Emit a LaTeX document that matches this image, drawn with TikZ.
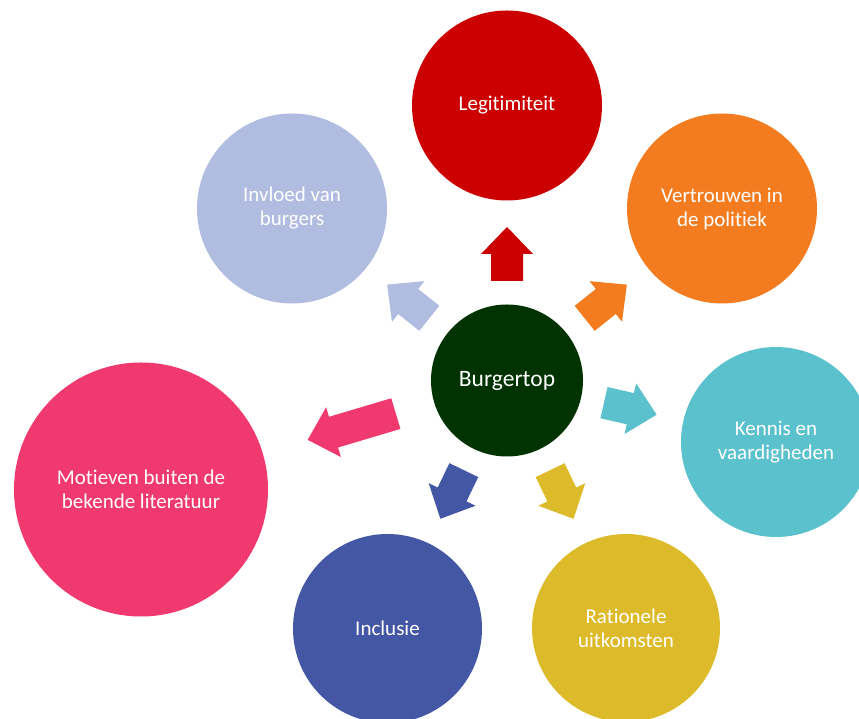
\documentclass[tikz,border=0pt]{standalone}
\usepackage{fontspec}
\setmainfont{Carlito}[Ligatures=NoCommon]
\usetikzlibrary{calc}

\definecolor{btgreen}{RGB}{0,51,0}
\definecolor{legitred}{RGB}{204,0,0}
\definecolor{vertorange}{RGB}{244,124,32}
\definecolor{kenniscyan}{RGB}{91,193,204}
\definecolor{rationyellow}{RGB}{220,186,42}
\definecolor{inclblue}{RGB}{67,87,165}
\definecolor{motiefpink}{RGB}{239,57,111}
\definecolor{invloedlav}{RGB}{176,188,224}

% block arrow from the centre towards a bubble: colour, target, tail distance, tip distance
\newcommand{\blockarrow}[4]{%
  \coordinate (atail) at ($(bt)!#3!(#2)$);
  \coordinate (atip) at ($(bt)!#4!(#2)$);
  \coordinate (ahead) at ($(atip)!27pt!(atail)$);
  \fill[#1] ($(atail)!16pt!90:(atip)$) -- ($(ahead)!16pt!90:(atip)$)
    -- ($(ahead)!26pt!90:(atip)$) -- (atip) -- ($(ahead)!26pt!-90:(atip)$)
    -- ($(ahead)!16pt!-90:(atip)$) -- ($(atail)!16pt!-90:(atip)$) -- cycle;
}

\begin{document}
\begin{tikzpicture}[x=1pt,y=1pt,
  bubble/.style={circle, inner sep=0pt, text=white, align=center,
    font=\fontsize{21}{24}\selectfont}]
\useasboundingbox (0,0) rectangle (859,719);
\fill[white] (0,0) rectangle (859,719);
\clip (0,0) rectangle (859,719);
% centre
\node[bubble, fill=btgreen, minimum size=152pt, font=\fontsize{23.5}{27}\selectfont] (bt) at (507,338.5) {Burgertop};
% outer bubbles
\node[bubble, fill=legitred, minimum size=190pt] (legit) at (507,613.5) {Legitimiteit};
\node[bubble, fill=vertorange, minimum size=190pt] (vert) at (722,510.5) {Vertrouwen in\\de politiek};
\node[bubble, fill=kenniscyan, minimum size=190pt] (kennis) at (776,277) {Kennis en\\vaardigheden};
\node[bubble, fill=rationyellow, minimum size=188pt] (ration) at (626,91) {Rationele\\uitkomsten};
\node[bubble, fill=inclblue, minimum size=189pt] (incl) at (387.5,90.5) {Inclusie};
\node[bubble, fill=motiefpink, minimum size=254pt] (motief) at (141,229.5) {Motieven buiten de\\bekende literatuur};
\node[bubble, fill=invloedlav, minimum size=190pt] (invloed) at (292,510.5) {Invloed van\\burgers};
% arrows
\blockarrow{legitred}{legit}{99.5pt}{153.5pt}
\blockarrow{vertorange}{vert}{99.5pt}{153.5pt}
\blockarrow{kenniscyan}{kennis}{99.5pt}{153.5pt}
\blockarrow{rationyellow}{ration}{99.5pt}{153.5pt}
\blockarrow{inclblue}{incl}{99.5pt}{153.5pt}
\blockarrow{motiefpink}{motief}{116pt}{208pt}
\blockarrow{invloedlav}{invloed}{99.5pt}{153.5pt}
\end{tikzpicture}
\end{document}
